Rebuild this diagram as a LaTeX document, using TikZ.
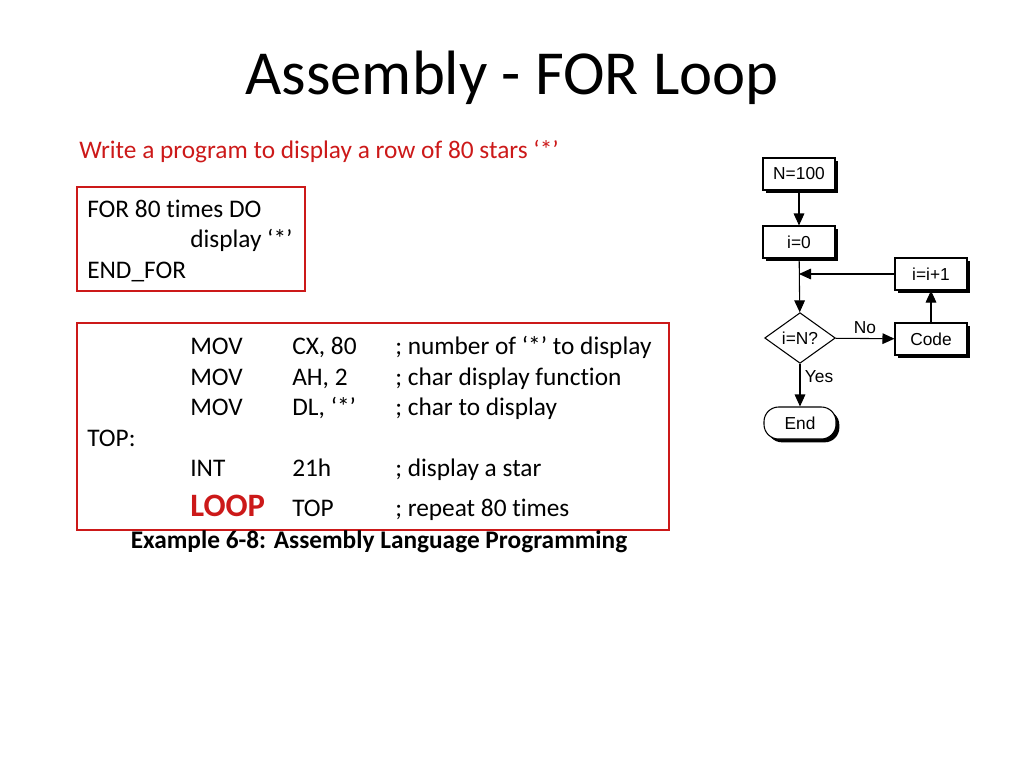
\documentclass[tikz,border=0pt]{standalone}
\usepackage{fontspec}
\setmainfont[Ligatures=NoCommon]{Carlito}
\newfontfamily\chartfont{Liberation Sans}
\usetikzlibrary{shapes.geometric,shadows,arrows.meta}
\definecolor{slidered}{rgb}{0.80,0.10,0.10}

\begin{document}
\begin{tikzpicture}[x=0.75pt,y=-0.75pt,
  txt/.style={anchor=base west, inner sep=0pt, font=\fontsize{19}{21}\selectfont},
  codebox/.style={draw=slidered, line width=0.8pt},
  stepbox/.style={draw, thick, fill=white, minimum width=54pt, minimum height=24pt,
    font=\chartfont\fontsize{13}{14}\selectfont,
    drop shadow={shadow xshift=2.5pt, shadow yshift=-2.5pt, fill=black, opacity=1}},
  testbox/.style={draw, thick, fill=white, diamond, aspect=1.4, inner sep=0pt,
    minimum width=53pt, minimum height=38pt, font=\chartfont\fontsize{13}{14}\selectfont},
  endbox/.style={stepbox, rounded corners=11pt},
  flow/.style={thick, -{Triangle[length=9pt,width=8pt]}}]
\useasboundingbox (0,0) rectangle (1024,768);

% title and task
\node (title) at (512,78) {\fontsize{47}{52}\selectfont Assembly - FOR Loop};
\node[anchor=base west, inner sep=0pt, text=slidered, font=\fontsize{19}{21}\selectfont] (task) at (79,158)
  {Write a program to display a row of 80 stars ‘*’};

% pseudo code
\draw[codebox] (77,187) rectangle (305,291);
\node[txt] (p1) at (87,217) {FOR 80 times DO};
\node[txt] (p2) at (190,247) {display ‘*’};
\node[txt] (p3) at (87,278) {END\_FOR};

% assembly code
\draw[codebox] (77,323) rectangle (669,530);
\node[txt] (a1) at (190,354) {MOV};
\node[txt] at (292,354) {CX, 80};
\node[txt] at (395,354) {; number of ‘*’ to display};
\node[txt] (a2) at (190,385) {MOV};
\node[txt] at (292,385) {AH, 2};
\node[txt] at (395,385) {; char display function};
\node[txt] (a3) at (190,415) {MOV};
\node[txt] at (292,415) {DL, ‘*’};
\node[txt] at (395,415) {; char to display};
\node[txt] (top) at (87,446) {TOP:};
\node[txt] (a4) at (190,476) {INT};
\node[txt] at (292,476) {21h};
\node[txt] at (395,476) {; display a star};
\node[anchor=base west, inner sep=0pt, text=slidered, font=\fontsize{24.5}{26}\selectfont\bfseries] (a5) at (190,516) {LOOP};
\node[txt] at (292,516) {TOP};
\node[txt] at (395,516) {; repeat 80 times};
\node[font=\fontsize{19}{21}\selectfont\bfseries] (caption) at (379,542)
  {Example 6-8: Assembly Language Programming};

% flowchart
\node[stepbox] (init) at (799,174) {N=100};
\node[stepbox] (zero) at (799,242) {i=0};
\node[testbox] (test) at (800,338) {i=N?};
\node[stepbox] (code) at (931,339) {Code};
\node[stepbox] (incr) at (931,274) {i=i+1};
\node[endbox] (done) at (800,423) {End};
\coordinate (join) at (799,274);

\draw[flow] (init) -- (zero);
\draw[flow] (zero) -- (test);
\draw[flow] (incr) -- (join);
\draw[flow] (test) -- node[above, font=\chartfont\fontsize{13}{14}\selectfont] {No} (code);
\draw[flow] (code) -- (incr);
\draw[flow] (test) -- node[right, pos=0.3, font=\chartfont\fontsize{13}{14}\selectfont] {Yes} (done);
\end{tikzpicture}
\end{document}
